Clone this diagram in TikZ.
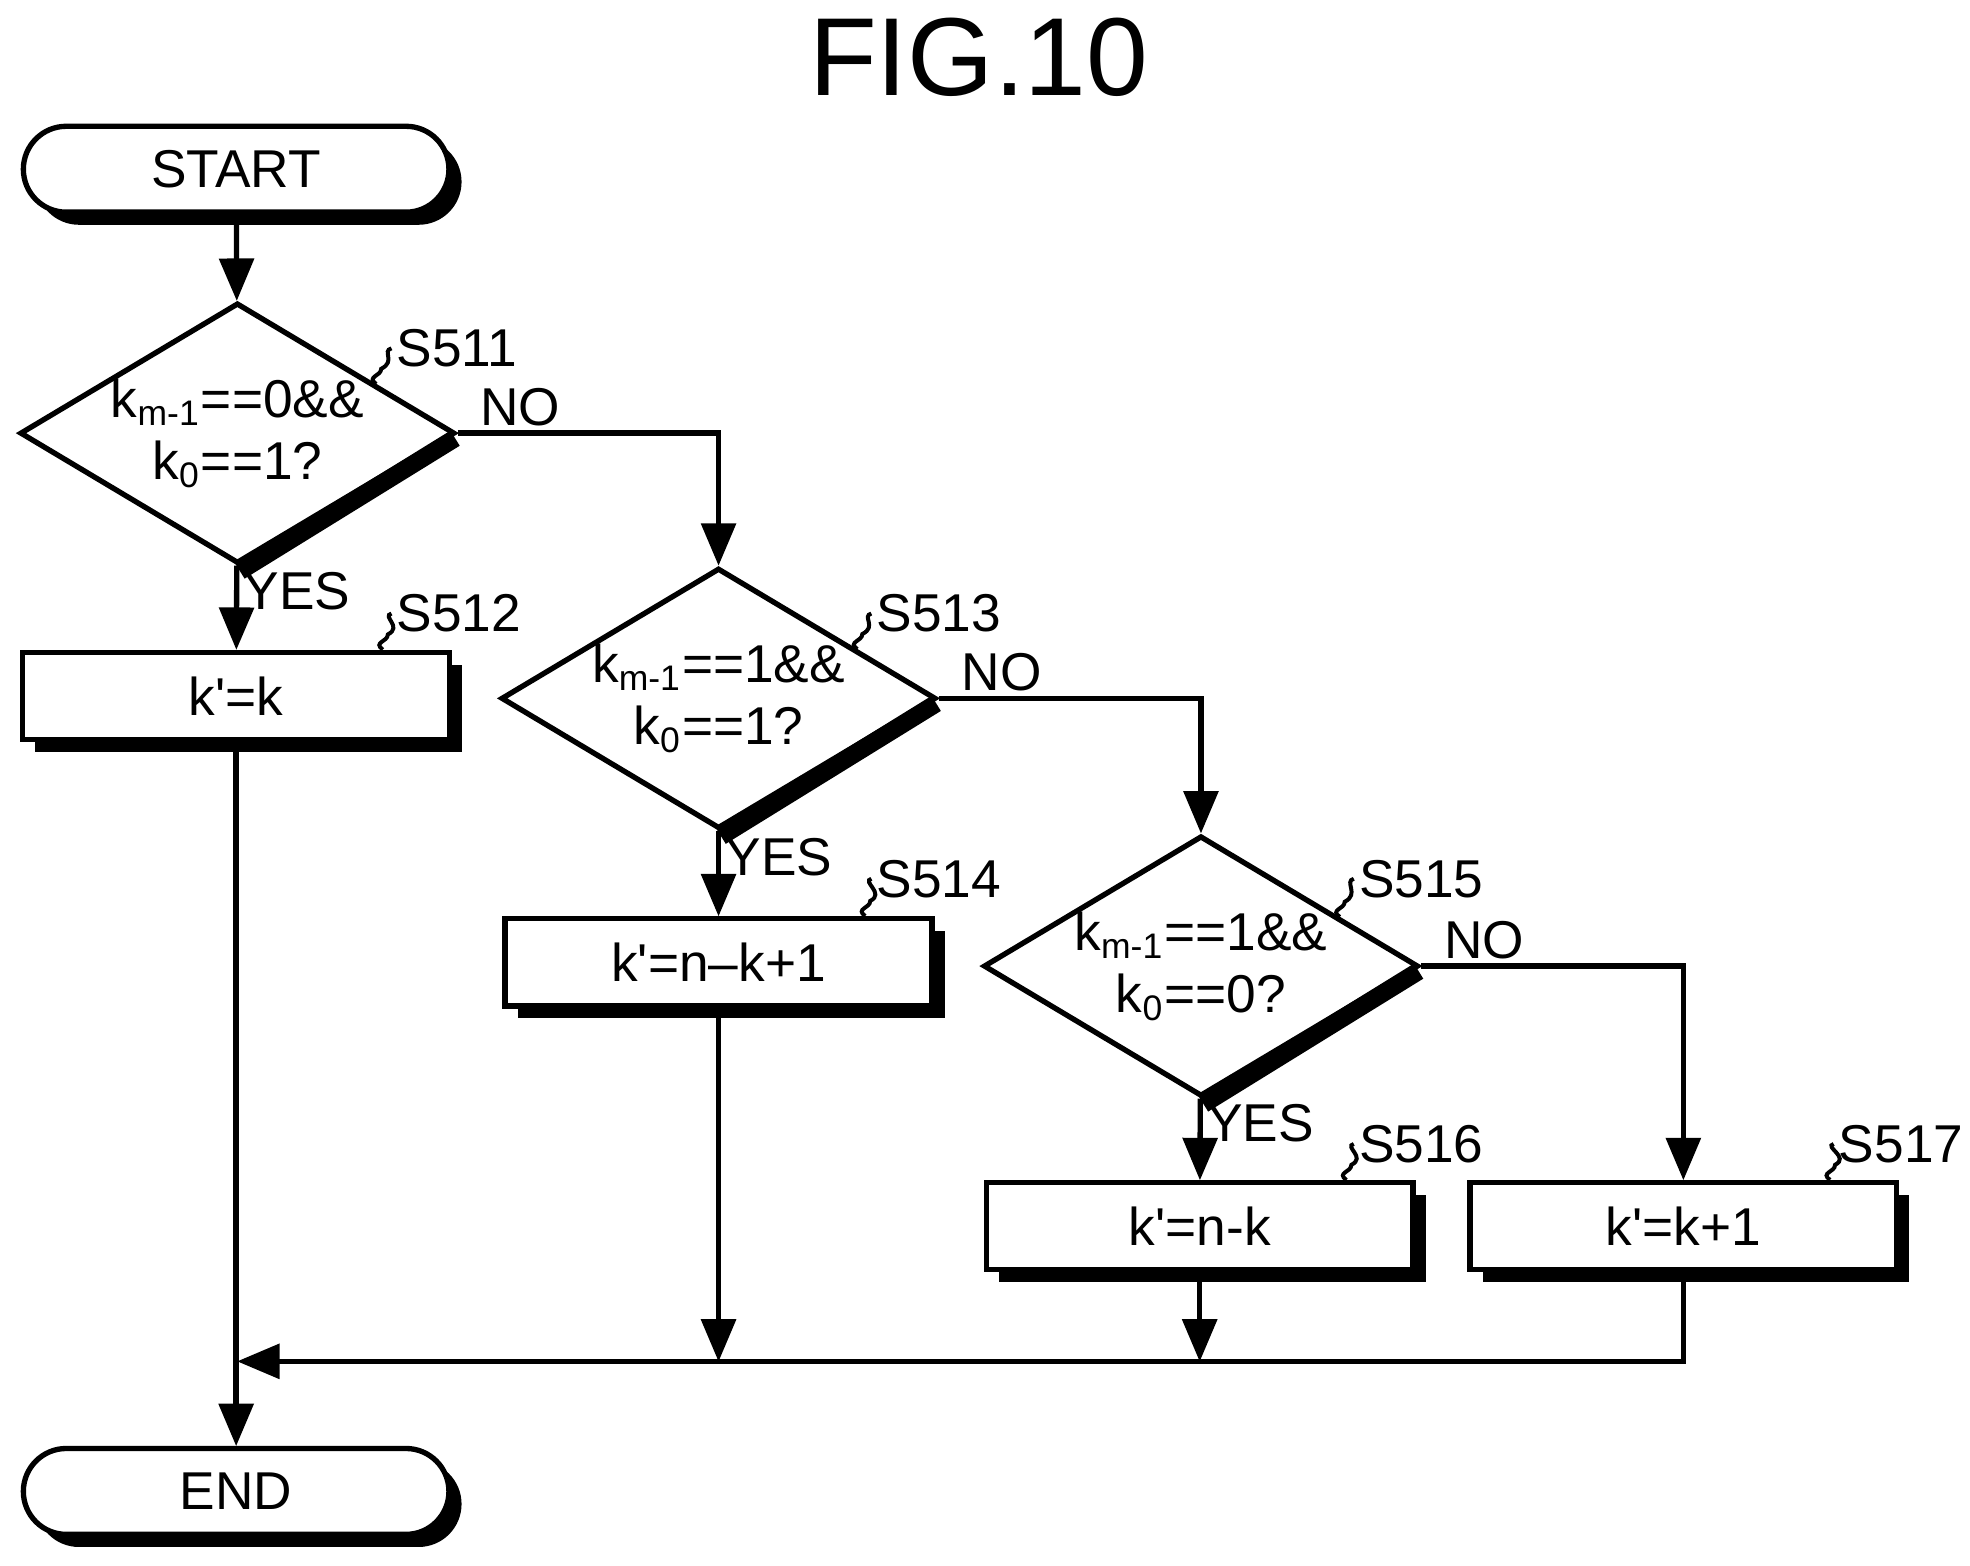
\documentclass[tikz,border=0pt]{standalone}
\usepackage{fontspec}
\setmainfont{Liberation Sans}
\usetikzlibrary{arrows}
\usetikzlibrary{calc}
\usetikzlibrary{positioning}
\usetikzlibrary{shapes}
\usetikzlibrary{shadows}
\tikzset{
  boxShadow/.style={drop shadow={shadow xshift=0.1cm, shadow yshift=-0.1cm, fill=black, opacity=1}},
  terminal/.style={draw, line width=1.2pt, rounded corners=0.34cm, fill=white, boxShadow,
    minimum width=3.37cm, minimum height=0.68cm, font=\large},
  process/.style={draw, line width=1.2pt, fill=white, boxShadow,
    minimum width=3.38cm, minimum height=0.69cm, font=\large},
  decision/.style={draw, diamond, aspect=1.67, line width=1.2pt, fill=white, inner sep=0,
    minimum width=3.4cm, minimum height=2.03cm, align=center, font=\large},
  arrow/.style={->,>=triangle 45, line width=1.2pt},
  line/.style={line width=1.2pt},
  stepLabel/.style={anchor=south west, inner sep=1pt, font=\large},
  branch/.style={font=\large, inner sep=1pt}
}
\newcommand{\decShadow}[1]{%
  \draw[line width=4pt] ($(#1.east)+(-0.02,-0.04)$) -- ($(#1.south)+(0.02,-0.04)$);}
\newcommand{\squig}[2]{%
  \draw[line width=0.9pt] (#1) .. controls +(-0.08,0.06) and +(0,-0.06) .. +(0.04,0.12)
     .. controls +(0.12,0.06) and +(-0.08,-0.02) .. (#2);}
\newcommand{\pr}{\textquotesingle}

\begin{document}
\begin{tikzpicture}
  \useasboundingbox (0,0) rectangle (15.6,12.4);

  \node (title) at (7.75,11.95) {\fontsize{25}{28}\selectfont FIG.10};

  % terminals and steps
  \node[terminal] (start) at (1.87,11.06) {START};
  \node[decision] (d1) at (1.88,8.97) {k\textsubscript{m-1}==0\&\&\\k\textsubscript{0}==1?};
  \node[process] (s512) at (1.87,6.89) {k\pr=k};
  \node[decision] (d2) at (5.69,6.87) {k\textsubscript{m-1}==1\&\&\\k\textsubscript{0}==1?};
  \node[process] (s514) at (5.69,4.78) {k\pr=n--k+1};
  \node[decision] (d3) at (9.51,4.75) {k\textsubscript{m-1}==1\&\&\\k\textsubscript{0}==0?};
  \node[process] (s516) at (9.50,2.69) {k\pr=n-k};
  \node[process] (s517) at (13.33,2.69) {k\pr=k+1};
  \node[terminal] (end) at (1.87,0.59) {END};
  \decShadow{d1}
  \decShadow{d2}
  \decShadow{d3}

  % step numbers
  \node[stepLabel] (l511) at (3.10,9.45) {S511};
  \node[stepLabel] (l512) at (3.10,7.35) {S512};
  \node[stepLabel] (l513) at (6.90,7.35) {S513};
  \node[stepLabel] (l514) at (6.90,5.25) {S514};
  \node[stepLabel] (l515) at (10.72,5.25) {S515};
  \node[stepLabel] (l516) at (10.72,3.15) {S516};
  \node[stepLabel] (l517) at (14.52,3.15) {S517};
  \squig{$(d1.north)!0.63!(d1.east)$}{l511.west}
  \squig{$(s512.north east)+(-0.55,0)$}{l512.west}
  \squig{$(d2.north)!0.63!(d2.east)$}{l513.west}
  \squig{$(s514.north east)+(-0.55,0)$}{l514.west}
  \squig{$(d3.north)!0.63!(d3.east)$}{l515.west}
  \squig{$(s516.north east)+(-0.55,0)$}{l516.west}
  \squig{$(s517.north east)+(-0.55,0)$}{l517.west}

  % connectors
  \coordinate (merge) at (1.88,1.62);
  \draw[arrow] (start) -- (d1);
  \draw[arrow] (d1) -- node[branch, right, pos=0.3] {YES} (s512);
  \draw[arrow] (d1.east) -| node[branch, above, pos=0.12] {NO} (d2.north);
  \draw[arrow] (d2) -- node[branch, right, pos=0.3] {YES} (s514);
  \draw[arrow] (d2.east) -| node[branch, above, pos=0.12] {NO} (d3.north);
  \draw[arrow] (d3) -- node[branch, right, pos=0.3] {YES} (s516);
  \draw[arrow] (d3.east) -| node[branch, above, pos=0.12] {NO} (s517.north);
  \draw[arrow] (s512) -- (end);
  \draw[arrow] (s514) -- (s514 |- merge);
  \draw[arrow] (s516) -- (s516 |- merge);
  \draw[arrow] (s517.south) |- (merge);
\end{tikzpicture}
\end{document}
